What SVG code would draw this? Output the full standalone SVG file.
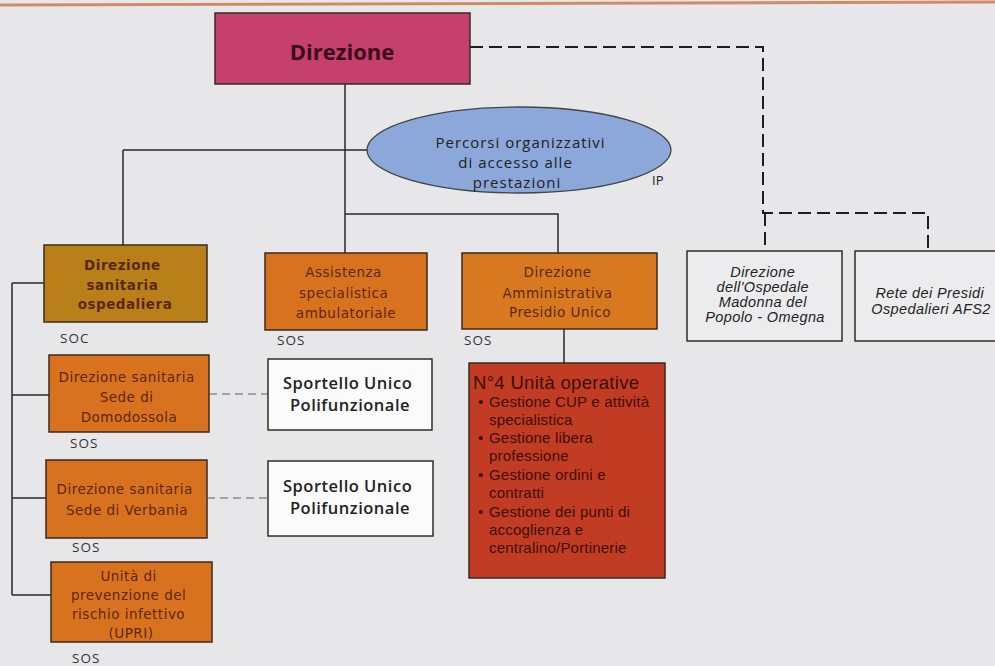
<svg xmlns="http://www.w3.org/2000/svg" width="995" height="666" viewBox="0 0 995 666">
<style>
.box{stroke:#3a2a22;stroke-width:1.5}
.ln{fill:none;stroke:#2a2a2a;stroke-width:1.5}
.dash{fill:none;stroke:#1e1e1e;stroke-width:2;stroke-dasharray:13 6}
.gdash{fill:none;stroke:#8c8c8c;stroke-width:1.6;stroke-dasharray:8 5}
.ot{font-family:"DejaVu Sans",Verdana,sans-serif;font-size:13.5px;letter-spacing:0.5px;fill:#5a2812;text-anchor:middle}
.lab{font-family:"Open Sans","DejaVu Sans",sans-serif;font-size:13.5px;letter-spacing:1px;fill:#333}
.sp{font-family:"Open Sans","DejaVu Sans",sans-serif;font-size:16.5px;font-weight:600;letter-spacing:0.5px;fill:#222;text-anchor:middle}
.it{font-family:"Liberation Sans",Arial,sans-serif;font-size:14.5px;font-style:italic;letter-spacing:0.4px;fill:#222;text-anchor:middle}
.rt{font-family:"Liberation Sans",Arial,sans-serif;font-size:15px;letter-spacing:0.2px;fill:#3a0f08}
.rh{font-family:"Liberation Sans",Arial,sans-serif;font-size:18.5px;letter-spacing:0.3px;fill:#3a0f08}
</style>
<rect width="995" height="666" fill="#e7e7e9"/>
<line x1="0" y1="5" x2="995" y2="2" stroke="#d08a66" stroke-width="3"/>

<g id="connectors">
  <path class="ln" d="M345,84 V253 M123,150 H368 M123,150 V245 M345,214 H558 V253 M564,329 V363"/>
  <path class="ln" d="M12,283 V595 M12,283 H44 M12,395 H49 M12,498 H46 M12,595 H51"/>
  <path class="dash" d="M470,47 H763 V213 H928 V251 M765,213 V251"/>
  <path class="gdash" d="M209,394 H268 M207,498 H268"/>
</g>

<g id="direzione">
  <rect class="box" x="215" y="13" width="255" height="71" fill="#c5406c"/>
  <text x="342" y="60" font-family="'Open Sans','DejaVu Sans',sans-serif" font-size="22" font-weight="bold" fill="#3a0a1a" text-anchor="middle">Direzione</text>
</g>

<g id="percorsi">
  <ellipse cx="519" cy="150" rx="152" ry="43" fill="#8ca7d9" stroke="#444" stroke-width="1.3"/>
  <text font-family="'Open Sans','DejaVu Sans',sans-serif" font-size="15" letter-spacing="1" fill="#222" text-anchor="middle">
    <tspan x="523" y="148">Percorsi organizzativi</tspan>
    <tspan x="518" y="168">di accesso alle</tspan>
    <tspan x="517" y="188">prestazioni</tspan>
  </text>
  <text x="652" y="185" font-family="'Open Sans','DejaVu Sans',sans-serif" font-size="13" fill="#222">IP</text>
</g>

<g id="dir-sanitaria-osp">
  <rect class="box" x="44" y="245" width="163" height="77" fill="#b98019"/>
  <text class="ot" font-weight="bold" letter-spacing="0.3" fill="#4a2a0a">
    <tspan x="125" y="270">Direzione</tspan>
    <tspan x="125" y="290">sanitaria</tspan>
    <tspan x="125" y="309">ospedaliera</tspan>
  </text>
  <text class="lab" x="60" y="343">SOC</text>
</g>

<g id="assistenza">
  <rect class="box" x="265" y="253" width="162" height="77" fill="#d9721f"/>
  <text class="ot">
    <tspan x="346" y="277">Assistenza</tspan>
    <tspan x="346" y="298">specialistica</tspan>
    <tspan x="346" y="318">ambulatoriale</tspan>
  </text>
  <text class="lab" x="277" y="345">SOS</text>
</g>

<g id="dir-amministrativa">
  <rect class="box" x="462" y="253" width="195" height="76" fill="#d9791f"/>
  <text class="ot">
    <tspan x="560" y="277">Direzione</tspan>
    <tspan x="560" y="298">Amministrativa</tspan>
    <tspan x="560" y="317">Presidio Unico</tspan>
  </text>
  <text class="lab" x="464" y="345">SOS</text>
</g>

<g id="dir-omegna">
  <rect class="box" x="687" y="251" width="155" height="90" fill="#ececee"/>
  <text class="it">
    <tspan x="765" y="277">Direzione</tspan>
    <tspan x="765" y="292">dell'Ospedale</tspan>
    <tspan x="765" y="307">Madonna del</tspan>
    <tspan x="765" y="322">Popolo - Omegna</tspan>
  </text>
</g>

<g id="rete-presidi">
  <rect class="box" x="855" y="251" width="145" height="90" fill="#ececee"/>
  <text class="it">
    <tspan x="932" y="298">Rete dei Presidi</tspan>
    <tspan x="931" y="314">Ospedalieri AFS2</tspan>
  </text>
</g>

<g id="unita-operative">
  <rect class="box" x="469" y="363" width="196" height="215" fill="#c23c24"/>
  <text class="rh" x="473" y="389">N°4 Unità operative</text>
  <text class="rt">
    <tspan x="478" y="407">•</tspan><tspan x="489" y="407">Gestione CUP e attività</tspan>
    <tspan x="489" y="425">specialistica</tspan>
    <tspan x="478" y="443">•</tspan><tspan x="489" y="443">Gestione libera</tspan>
    <tspan x="489" y="461">professione</tspan>
    <tspan x="478" y="480">•</tspan><tspan x="489" y="480">Gestione ordini e</tspan>
    <tspan x="489" y="498">contratti</tspan>
    <tspan x="478" y="517">•</tspan><tspan x="489" y="517">Gestione dei punti di</tspan>
    <tspan x="489" y="535">accoglienza e</tspan>
    <tspan x="489" y="553">centralino/Portinerie</tspan>
  </text>
</g>

<g id="dir-domodossola">
  <rect class="box" x="49" y="355" width="160" height="77" fill="#d9721f"/>
  <text class="ot">
    <tspan x="129" y="382">Direzione sanitaria</tspan>
    <tspan x="129" y="402">Sede di</tspan>
    <tspan x="129" y="422">Domodossola</tspan>
  </text>
  <text class="lab" x="70" y="448">SOS</text>
</g>

<g id="sportello-1">
  <rect class="box" x="268" y="359" width="164" height="71" fill="#fbfbfb"/>
  <text class="sp">
    <tspan x="350" y="389">Sportello Unico</tspan>
    <tspan x="350" y="411">Polifunzionale</tspan>
  </text>
</g>

<g id="dir-verbania">
  <rect class="box" x="46" y="460" width="161" height="78" fill="#d9721f"/>
  <text class="ot">
    <tspan x="127" y="494">Direzione sanitaria</tspan>
    <tspan x="127" y="515">Sede di Verbania</tspan>
  </text>
  <text class="lab" x="72" y="552">SOS</text>
</g>

<g id="sportello-2">
  <rect class="box" x="268" y="461" width="165" height="75" fill="#fbfbfb"/>
  <text class="sp">
    <tspan x="350" y="492">Sportello Unico</tspan>
    <tspan x="350" y="514">Polifunzionale</tspan>
  </text>
</g>

<g id="upri">
  <rect class="box" x="51" y="562" width="161" height="80" fill="#d9721f"/>
  <text class="ot">
    <tspan x="131" y="581">Unità di</tspan>
    <tspan x="131" y="600">prevenzione del</tspan>
    <tspan x="131" y="619">rischio infettivo</tspan>
    <tspan x="131" y="638">(UPRI)</tspan>
  </text>
  <text class="lab" x="72" y="663">SOS</text>
</g>
</svg>
